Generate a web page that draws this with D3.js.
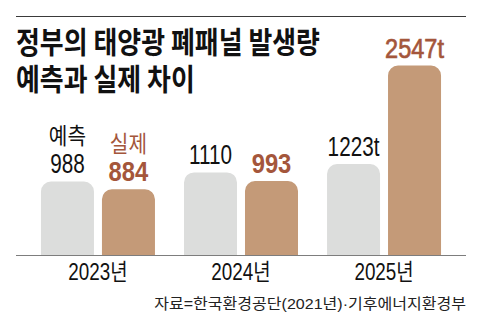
<!DOCTYPE html>
<html>
<head>
<meta charset="utf-8">
<script src="https://cdn.jsdelivr.net/npm/d3@7"></script>
<style>
  html, body { margin: 0; padding: 0; background: #fff; }
  svg { display: block; }
</style>
</head>
<body>
<svg id="chart" width="480" height="326"></svg>
<script>
// 태양광 폐패널 발생량: 정부 예측치와 실제 발생량 (단위 t)
const years = ['2023년', '2024년', '2025년'];
const seriesNames = ['예측', '실제'];
const predicted = [988, 1110, 1223];
const actual = [884, 993, 2547];
const titleLines = ['정부의 태양광 폐패널 발생량', '예측과 실제 차이'];
const sourceText = '자료=한국환경공단(2021년)·기후에너지환경부';

const W = 480, H = 326;
const left = 16, right = 466, baseY = 255;

const COLORS = {
  rule: '#3a3a3a',
  axis: '#7d7d7d',
  predBar: '#dcdddc',
  actualBar: '#c49a78',
  predText: '#111111',
  actualText: '#a4563b',
  title: '#111111',
  source: '#222222'
};

const LATIN = '"Liberation Sans", Arial, "Noto Sans CJK KR", sans-serif';
const KR = '"Noto Sans CJK KR", "Noto Sans", sans-serif';

const svg = d3.select('#chart');

// horizontally condensed text helper
function label(g, str, x, y, o) {
  return g.append('text')
    .attr('transform', `translate(${x},${y}) scale(${o.sx || 1},1)`)
    .attr('text-anchor', o.anchor || 'middle')
    .attr('font-family', o.family || LATIN)
    .attr('font-size', o.size)
    .attr('font-weight', o.weight || 400)
    .attr('fill', o.fill)
    .attr('stroke', o.stroke || 'none')
    .attr('stroke-width', o.strokeWidth || 0)
    .text(str);
}

// top rule
svg.append('line')
  .attr('x1', left).attr('x2', right)
  .attr('y1', 16.5).attr('y2', 16.5)
  .attr('stroke', COLORS.rule).attr('stroke-width', 1);

// title: two lines in one text element
const title = svg.append('text')
  .attr('transform', `translate(${left},53) scale(0.865,1)`)
  .attr('font-family', KR)
  .attr('font-size', 30)
  .attr('font-weight', 700)
  .attr('fill', COLORS.title);
title.selectAll('tspan')
  .data(titleLines).join('tspan')
  .attr('x', 0)
  .attr('dy', (d, i) => i === 0 ? 0 : 37)
  .text(d => d);

// scales
const x0 = d3.scalePoint().domain(years).range([left, right]).padding(0.573);
const x1 = d3.scaleBand().domain(seriesNames).range([-57, 57]).paddingInner(0.131);
const y = d3.scaleLinear().domain([0, 3000]).range([baseY, baseY - 0.0744 * 3000]);

// bar with rounded top corners
function topRounded(x, yTop, w, yBottom, r) {
  const p = d3.path();
  r = Math.min(r, w / 2, yBottom - yTop);
  p.moveTo(x, yBottom);
  p.lineTo(x, yTop + r);
  p.arcTo(x, yTop, x + r, yTop, r);
  p.lineTo(x + w - r, yTop);
  p.arcTo(x + w, yTop, x + w, yTop + r, r);
  p.lineTo(x + w, yBottom);
  p.closePath();
  return p.toString();
}

const rows = years.map((yr, i) => ({
  year: yr,
  values: [
    { key: '예측', v: predicted[i] },
    { key: '실제', v: actual[i] }
  ]
}));

const groups = svg.append('g').selectAll('g')
  .data(rows).join('g')
  .attr('transform', d => `translate(${x0(d.year)},0)`);

groups.selectAll('path')
  .data(d => d.values).join('path')
  .attr('d', d => topRounded(x1(d.key), y(d.v), x1.bandwidth(), baseY, 10))
  .attr('fill', d => d.key === '예측' ? COLORS.predBar : COLORS.actualBar);

// value labels
const last = years.length - 1;
rows.forEach((row, i) => {
  const gx = x0(row.year);
  row.values.forEach(d => {
    const cx = gx + x1(d.key) + x1.bandwidth() / 2;
    const ty = y(d.v) - 8;
    const txt = d3.format('d')(d.v) + (i === last ? 't' : '');
    const isPred = d.key === '예측';
    let style;
    if (isPred) {
      style = { size: 28, weight: 400, fill: COLORS.predText, sx: 0.74 };
    } else if (i === last) {
      style = { size: 28, weight: 400, fill: COLORS.actualText, sx: 0.84,
                stroke: COLORS.actualText, strokeWidth: 0.7 };
    } else {
      style = { size: 28, weight: 700, fill: COLORS.actualText, sx: 0.85 };
    }
    label(svg, txt, cx, ty, style);
    // series name above the first group's values
    if (i === 0) {
      label(svg, d.key, cx, ty - 29, {
        family: KR, size: 23, weight: 400,
        fill: isPred ? COLORS.predText : COLORS.actualText, sx: 0.88
      });
    }
  });
});

// baseline
svg.append('line')
  .attr('x1', left).attr('x2', right)
  .attr('y1', baseY + 0.5).attr('y2', baseY + 0.5)
  .attr('stroke', COLORS.axis).attr('stroke-width', 1);

// year labels
years.forEach(yr => {
  label(svg, yr, x0(yr), 279.5, { size: 23, fill: '#111', sx: 0.82 });
});

// source
label(svg, sourceText, right, 309, {
  anchor: 'end', size: 15, fill: COLORS.source, sx: 1.07
});
</script>
</body>
</html>
